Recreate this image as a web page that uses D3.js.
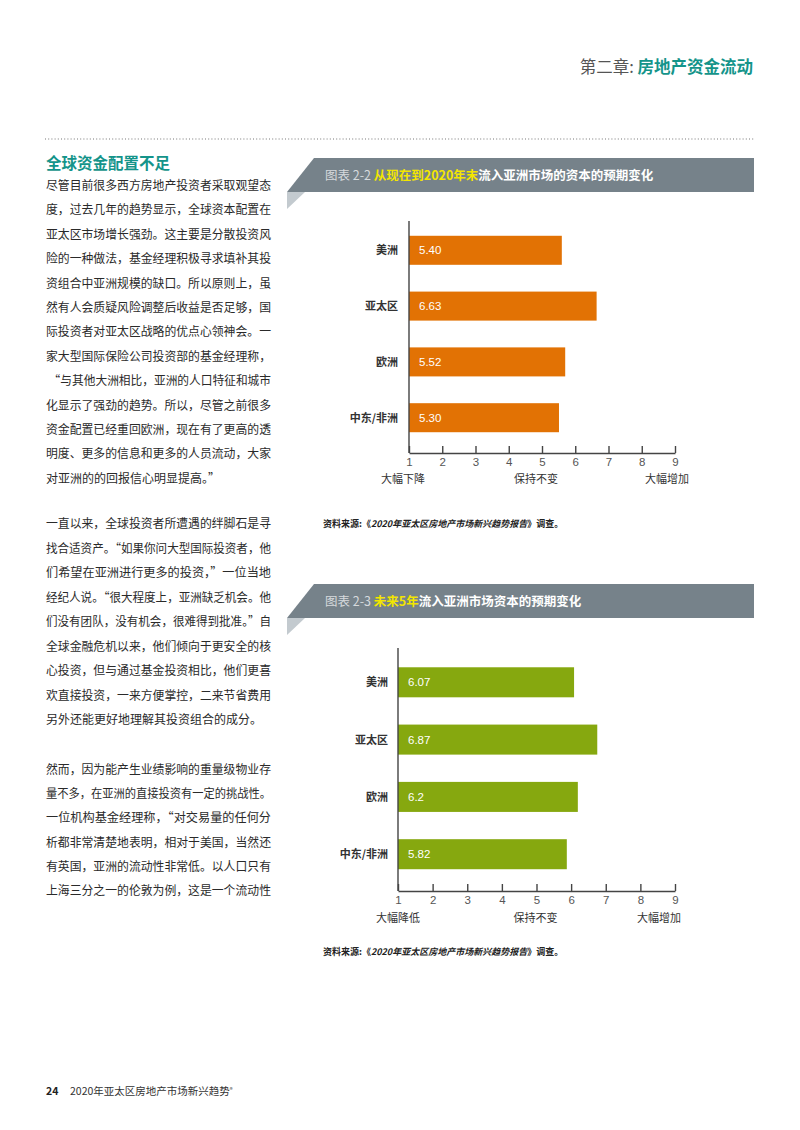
<!DOCTYPE html>
<html>
<head>
<meta charset="utf-8">
<script src="https://cdn.jsdelivr.net/npm/d3@7"></script>
<style>
  html, body { margin: 0; padding: 0; background: #fff; }
  svg { display: block; font-family: "Noto Sans CJK SC", "Noto Sans", sans-serif; }
</style>
</head>
<body>
<svg id="page" width="800" height="1130"></svg>
<script>
// ---------- DATA ----------
const categories = ["美洲", "亚太区", "欧洲", "中东/非洲"];
const values1 = [5.40, 6.63, 5.52, 5.30];
const valueLabels1 = ["5.40", "6.63", "5.52", "5.30"];
const values2 = [6.07, 6.87, 6.2, 5.82];
const valueLabels2 = ["6.07", "6.87", "6.2", "5.82"];
const tickValues = [1, 2, 3, 4, 5, 6, 7, 8, 9];
const scaleLabels1 = ["大幅下降", "保持不变", "大幅增加"];
const scaleLabels2 = ["大幅降低", "保持不变", "大幅增加"];
const scaleLabelTicks = [1, 5, 9];

const title1 = { prefix: "图表 2-2", highlight: "从现在到2020年末", rest: "流入亚洲市场的资本的预期变化" };
const title2 = { prefix: "图表 2-3", highlight: "未来5年", rest: "流入亚洲市场资本的预期变化" };
const sourceParts = ["资料来源:《", "2020年亚太区房地产市场新兴趋势报告", "》调查。"];

const chapterLabel = "第二章: ";
const chapterTitle = "房地产资金流动";
const sectionHeading = "全球资金配置不足";
const footerPage = "24";
const footerTitle = "2020年亚太区房地产市场新兴趋势";

const paragraph1 = [
  "尽管目前很多西方房地产投资者采取观望态",
  "度，过去几年的趋势显示，全球资本配置在",
  "亚太区市场增长强劲。这主要是分散投资风",
  "险的一种做法，基金经理积极寻求填补其投",
  "资组合中亚洲规模的缺口。所以原则上，虽",
  "然有人会质疑风险调整后收益是否足够，国",
  "际投资者对亚太区战略的优点心领神会。一",
  "家大型国际保险公司投资部的基金经理称，",
  " “与其他大洲相比，亚洲的人口特征和城市",
  "化显示了强劲的趋势。所以，尽管之前很多",
  "资金配置已经重回欧洲，现在有了更高的透",
  "明度、更多的信息和更多的人员流动，大家",
  "对亚洲的的回报信心明显提高。”"
];
const paragraph2 = [
  "一直以来，全球投资者所遭遇的绊脚石是寻",
  "找合适资产。“如果你问大型国际投资者，他",
  "们希望在亚洲进行更多的投资，”一位当地",
  "经纪人说。“很大程度上，亚洲缺乏机会。他",
  "们没有团队，没有机会，很难得到批准。”自",
  "全球金融危机以来，他们倾向于更安全的核",
  "心投资，但与通过基金投资相比，他们更喜",
  "欢直接投资，一来方便掌控，二来节省费用",
  "另外还能更好地理解其投资组合的成分。"
];
const paragraph3 = [
  "然而，因为能产生业绩影响的重量级物业存",
  "量不多，在亚洲的直接投资有一定的挑战性。",
  "一位机构基金经理称，“对交易量的任何分",
  "析都非常清楚地表明，相对于美国，当然还",
  "有英国，亚洲的流动性非常低。以人口只有",
  "上海三分之一的伦敦为例，这是一个流动性"
];

// ---------- PAGE ----------
const svg = d3.select("#page");
const teal = "#14948a";
const textDark = "#2a2a2a";

// Header
const hdr = svg.append("text")
  .attr("x", 753).attr("y", 73)
  .attr("text-anchor", "end")
  .style("font-size", "16.5px");
hdr.append("tspan").attr("fill", "#555").text(chapterLabel);
hdr.append("tspan").attr("fill", teal).attr("font-weight", "bold").text(chapterTitle);

// dotted rule
svg.append("line")
  .attr("x1", 45).attr("x2", 755).attr("y1", 139).attr("y2", 139)
  .attr("stroke", "#777").attr("stroke-width", 1.2)
  .attr("stroke-dasharray", "1,2.2");

// Section heading
svg.append("text")
  .attr("x", 46).attr("y", 169)
  .attr("fill", teal).attr("font-weight", "bold")
  .style("font-size", "15.5px")
  .text(sectionHeading);

// Body text
function drawParagraph(lines, y0, step, lastFull) {
  lines.forEach((line, i) => {
    const t = svg.append("text")
      .attr("x", 46).attr("y", y0 + i * step)
      .attr("fill", textDark)
      .style("font-size", "12px")
      .style("white-space", "pre")
      .text(line);
    const full = i < lines.length - 1 || lastFull;
    if (full) {
      t.attr("textLength", 225).attr("lengthAdjust", "spacingAndGlyphs");
    }
  });
}
drawParagraph(paragraph1, 190, 24.4, false);
drawParagraph(paragraph2, 528, 24.5, false);
drawParagraph(paragraph3, 774, 24.2, true);

// Footer
svg.append("text").attr("x", 46).attr("y", 1095)
  .attr("font-weight", "bold").attr("fill", "#222")
  .style("font-size", "10.5px").text(footerPage);
const ft = svg.append("text").attr("x", 70).attr("y", 1095)
  .attr("fill", "#333").style("font-size", "10.5px");
ft.append("tspan").text(footerTitle);
ft.append("tspan").attr("dy", -3).style("font-size", "6px").text("®");

// ---------- CHARTS ----------
function drawChart(cfg) {
  const g = svg.append("g");

  // Banner
  const bt = cfg.bannerTop, bb = cfg.bannerBottom;
  g.append("path")
    .attr("d", `M287,${bb} L305,${bb} L287,${bb + 17} Z`)
    .attr("fill", "#c3cacf");
  g.append("path")
    .attr("d", `M314,${bt} L754,${bt} L754,${bb} L287,${bb} Z`)
    .attr("fill", "#76828a");
  const tt = g.append("text")
    .attr("x", 325).attr("y", (bt + bb) / 2 + 4.5)
    .style("font-size", "12.5px");
  tt.append("tspan").attr("fill", "#d6dadd").text(cfg.title.prefix + " ");
  tt.append("tspan").attr("fill", "#f3e600").attr("font-weight", "bold").text(cfg.title.highlight);
  tt.append("tspan").attr("fill", "#ffffff").attr("font-weight", "bold").text(cfg.title.rest);

  // Scales
  const x = d3.scaleLinear().domain([1, 9]).range([cfg.x0, cfg.x1]);
  const barLen = d3.scaleLinear().domain([0, cfg.barDomainMax]).range([0, cfg.x1 - cfg.x0]);
  const y = d3.scaleBand().domain(categories).range(cfg.bandRange).padding(cfg.padding);

  // Bars
  g.selectAll(".bar").data(cfg.values).join("rect")
    .attr("x", cfg.x0)
    .attr("y", (d, i) => y(categories[i]))
    .attr("width", d => barLen(d))
    .attr("height", y.bandwidth())
    .attr("fill", cfg.color);

  // Value labels
  g.selectAll(".val").data(cfg.labels).join("text")
    .attr("x", cfg.x0 + 10)
    .attr("y", (d, i) => y(categories[i]) + y.bandwidth() / 2)
    .attr("dy", "0.36em")
    .attr("fill", "#ffffff")
    .style("font-size", "11.5px")
    .style("font-family", "Liberation Sans, Arial, sans-serif")
    .text(d => d);

  // Category labels
  g.selectAll(".cat").data(categories).join("text")
    .attr("x", cfg.catX)
    .attr("y", d => y(d) + y.bandwidth() / 2)
    .attr("dy", "0.36em")
    .attr("text-anchor", "end")
    .attr("fill", "#333")
    .attr("font-weight", "bold")
    .style("font-size", "11px")
    .text(d => d);

  // Vertical axis line
  g.append("line")
    .attr("x1", cfg.x0).attr("x2", cfg.x0)
    .attr("y1", cfg.plotTop).attr("y2", cfg.axisY)
    .attr("stroke", "#444").attr("stroke-width", 1.4);

  // Bottom axis
  const ax = g.append("g")
    .attr("transform", `translate(0,${cfg.axisY})`)
    .call(d3.axisBottom(x).tickValues(tickValues).tickSizeInner(-7).tickSizeOuter(0).tickPadding(cfg.tickPad).tickFormat(d3.format("d")));
  ax.select(".domain").attr("stroke", "#444").attr("stroke-width", 1.4);
  ax.selectAll(".tick line").attr("stroke", "#444").attr("stroke-width", 1.4);
  ax.selectAll(".tick text")
    .attr("fill", "#555")
    .style("font-size", "11.5px")
    .style("font-family", "Liberation Sans, Arial, sans-serif");

  // Scale descriptors
  g.selectAll(".sl").data(cfg.scaleLabels).join("text")
    .attr("x", (d, i) => x(scaleLabelTicks[i]) + cfg.scaleDx[i])
    .attr("y", cfg.scaleLabelY)
    .attr("text-anchor", "middle")
    .attr("fill", "#333")
    .style("font-size", "11px")
    .text(d => d);

  // Source
  const src = g.append("text")
    .attr("x", 323).attr("y", cfg.sourceY)
    .attr("fill", "#222")
    .attr("font-weight", "bold")
    .style("font-size", "9px");
  src.append("tspan").text(sourceParts[0]);
  src.append("tspan").style("font-style", "italic").text(sourceParts[1]);
  src.append("tspan").text(sourceParts[2]);
}

drawChart({
  title: title1,
  bannerTop: 158, bannerBottom: 192,
  x0: 409, x1: 675, barDomainMax: 9.4,
  plotTop: 221, axisY: 453,
  bandRange: [209, 459], padding: 0.48,
  values: values1, labels: valueLabels1,
  color: "#e27204",
  catX: 398,
  tickPad: 5,
  scaleLabels: scaleLabels1, scaleDx: [-6, -6, -8], scaleLabelY: 483,
  sourceY: 527
});

drawChart({
  title: title2,
  bannerTop: 584, bannerBottom: 618,
  x0: 398, x1: 675, barDomainMax: 9.55,
  plotTop: 648, axisY: 891,
  bandRange: [640, 896.5], padding: 0.476,
  values: values2, labels: valueLabels2,
  color: "#86a80f",
  catX: 388,
  tickPad: 5,
  scaleLabels: scaleLabels2, scaleDx: [0, -1, -16], scaleLabelY: 922,
  sourceY: 955
});
</script>
</body>
</html>
